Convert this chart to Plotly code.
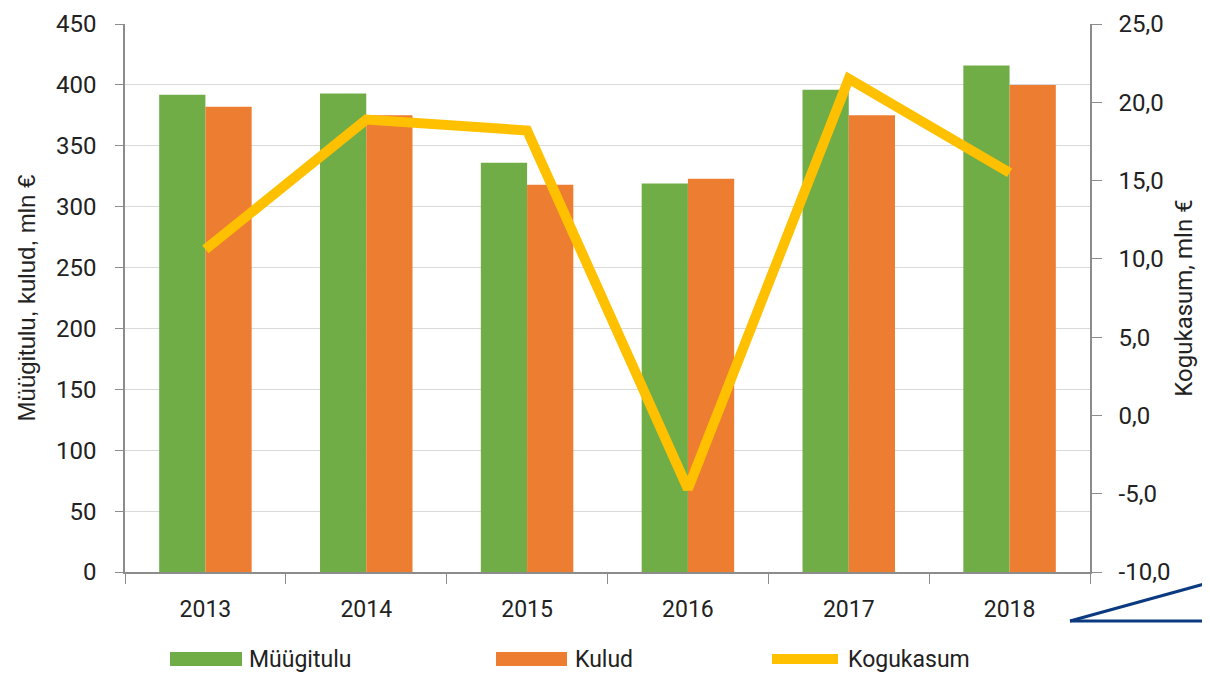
import plotly.graph_objects as go

years = ["2013", "2014", "2015", "2016", "2017", "2018"]
muugitulu = [392, 393, 336, 319, 396, 416]
kulud = [382, 375, 318, 323, 375, 400]
kogukasum = [10.6, 18.9, 18.2, -4.7, 21.5, 15.5]

left_ticks = list(range(0, 451, 50))
right_ticks = [-10, -5, 0, 5, 10, 15, 20, 25]
right_tick_text = ["-10,0", "-5,0", "0,0", "5,0", "10,0", "15,0", "20,0", "25,0"]
series_names = ["Müügitulu", "Kulud", "Kogukasum"]

FONT = "Roboto, Liberation Sans, sans-serif"
TITLE_FONT = "Liberation Sans, Arial, sans-serif"
GREEN = "#70ad47"
ORANGE = "#ed7d31"
GOLD = "#ffc000"
AXIS = "#8c8c8c"

# page has an 8px body margin: figure coords = page coords - 8
OFF = 8
FIG_W, FIG_H = 1210 - OFF, 675 - OFF
L, R, T, B = 125 - OFF, 1090 - OFF, 24 - OFF, 572 - OFF
W, H = R - L, B - T


def px(x):
    return (x - OFF - L) / W


def py(y):
    return (B - (y - OFF)) / H


fig = go.Figure()
fig.add_trace(go.Bar(x=years, y=muugitulu, name=series_names[0], marker_color=GREEN,
                     marker_line_width=0, showlegend=False))
fig.add_trace(go.Bar(x=years, y=kulud, name=series_names[1], marker_color=ORANGE,
                     marker_line_width=0, showlegend=False))
fig.add_trace(go.Scatter(x=years, y=kogukasum, name=series_names[2], yaxis="y2",
                         mode="lines", line=dict(color=GOLD, width=10), showlegend=False))

# legend drawn as swatches + labels below the plot
legend_shapes = [
    dict(type="rect", xref="paper", yref="paper", x0=px(170), x1=px(242), y0=py(666), y1=py(652),
         fillcolor=GREEN, line_width=0),
    dict(type="rect", xref="paper", yref="paper", x0=px(496), x1=px(567), y0=py(666), y1=py(652),
         fillcolor=ORANGE, line_width=0),
    dict(type="line", xref="paper", yref="paper", x0=px(772), x1=px(838), y0=py(659), y1=py(659),
         line=dict(color=GOLD, width=10)),
]
legend_annots = [
    dict(text=series_names[0], x=px(247), y=py(659)),
    dict(text=series_names[1], x=px(573), y=py(659)),
    dict(text=series_names[2], x=px(846), y=py(659)),
]
annotations = [dict(a, xref="paper", yref="paper", xanchor="left", yanchor="middle",
                    showarrow=False, font=dict(family=FONT, size=23, color="#222222"))
               for a in legend_annots]

deco = [
    dict(type="line", xref="paper", yref="paper", x0=px(1070), y0=py(621), x1=px(1215), y1=py(621),
         line=dict(color="#0b3a80", width=3)),
    dict(type="line", xref="paper", yref="paper", x0=px(1070), y0=py(621), x1=px(1215), y1=py(581),
         line=dict(color="#0b3a80", width=3)),
]

fig.update_layout(
    width=FIG_W, height=FIG_H,
    margin=dict(l=L, r=FIG_W - R, t=T, b=FIG_H - B),
    paper_bgcolor="white", plot_bgcolor="white",
    font=dict(family=FONT, size=24, color="#222222"),
    barmode="group", bargap=0.425, bargroupgap=0,
    showlegend=False,
    xaxis=dict(type="category", showline=True, linecolor=AXIS, linewidth=1.5,
               ticks="outside", tickson="boundaries", ticklen=10, tickcolor=AXIS,
               showgrid=False, tickfont=dict(size=23), ticklabelstandoff=16,
               automargin=False),
    yaxis=dict(range=[0, 450], tickvals=left_ticks, showline=True, linecolor=AXIS,
               linewidth=1.5, ticks="outside", ticklen=8, tickcolor=AXIS,
               showgrid=True, gridcolor="#d9d9d9", gridwidth=1, zeroline=False,
               ticklabelstandoff=14, automargin=False,
               title=dict(text="Müügitulu, kulud, mln €", standoff=14,
                          font=dict(family=TITLE_FONT, size=24)),
               tickfont=dict(size=24)),
    yaxis2=dict(range=[-10, 25], tickvals=right_ticks, ticktext=right_tick_text,
                overlaying="y", side="right", showline=True, linecolor=AXIS,
                linewidth=1.5, ticks="outside", ticklen=10, tickcolor=AXIS,
                showgrid=False, zeroline=False, ticklabelstandoff=12, automargin=False,
                title=dict(text="Kogukasum, mln €", standoff=6,
                           font=dict(family=FONT, size=24)),
                tickfont=dict(size=24)),
    shapes=legend_shapes + deco,
    annotations=annotations,
)

fig.write_html("out.html")
